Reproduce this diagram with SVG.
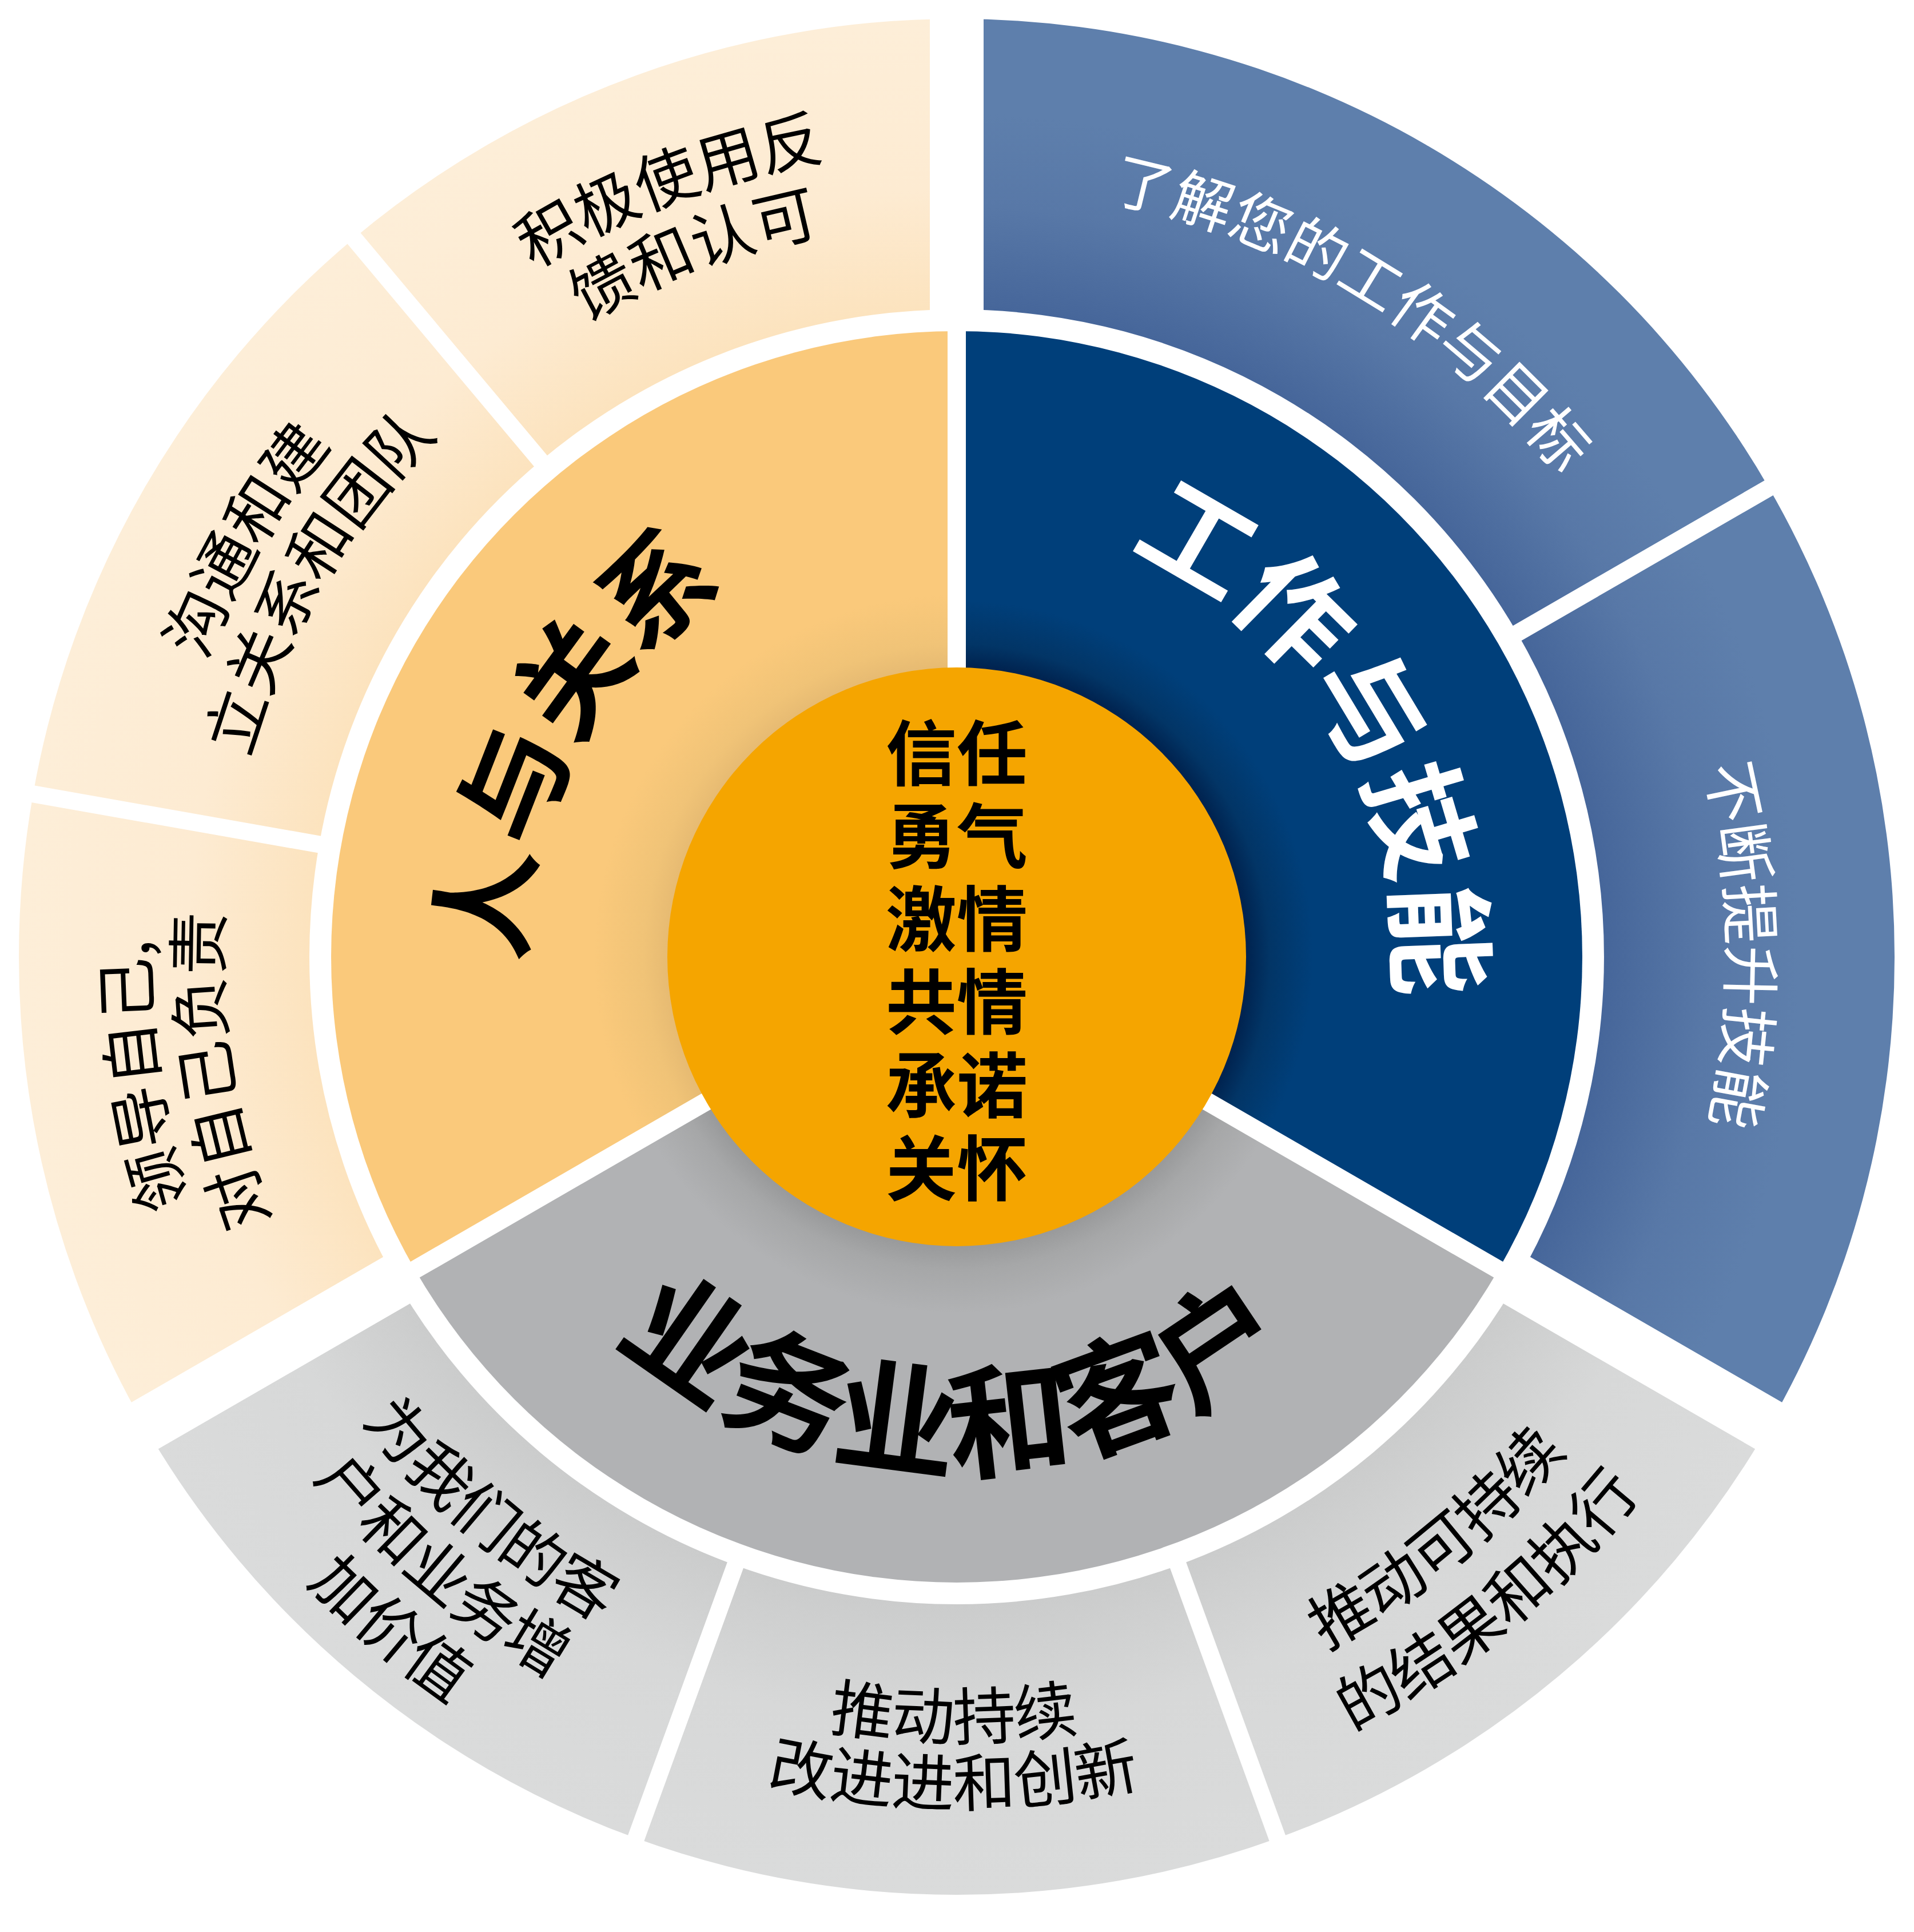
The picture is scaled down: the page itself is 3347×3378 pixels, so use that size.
<svg xmlns="http://www.w3.org/2000/svg" width="3347" height="3378" viewBox="0 0 3347 3378">
<defs>
<style>
.lbl{font-family:"Noto Sans CJK SC","Noto Sans CJK JP",sans-serif;font-size:110px;fill:#000;text-anchor:middle}
.lblw{font-family:"Noto Sans CJK SC","Noto Sans CJK JP",sans-serif;font-size:105px;fill:#fff;text-anchor:middle}
.big{font-family:"Noto Sans CJK SC","Noto Sans CJK JP",sans-serif;font-weight:700;text-anchor:middle}
.core{font-family:"Noto Sans CJK SC","Noto Sans CJK JP",sans-serif;font-weight:700;font-size:124px;fill:#000;text-anchor:middle}
.sep{stroke:#fff;fill:none}
</style>
<radialGradient id="gBlueOut" gradientUnits="userSpaceOnUse" cx="1673" cy="1673" r="1640">
<stop offset="0.69" stop-color="#46669A"/><stop offset="0.8" stop-color="#5878A7"/><stop offset="0.9" stop-color="#5E7FAC"/></radialGradient>
<radialGradient id="gOrOut" gradientUnits="userSpaceOnUse" cx="1673" cy="1673" r="1640">
<stop offset="0.69" stop-color="#FCE3BE"/><stop offset="0.82" stop-color="#FDEBD2"/><stop offset="1" stop-color="#FDEED8"/></radialGradient>
<radialGradient id="gGrOut" gradientUnits="userSpaceOnUse" cx="1673" cy="1673" r="1640">
<stop offset="0.69" stop-color="#CBCCCC"/><stop offset="0.82" stop-color="#D7D8D8"/><stop offset="1" stop-color="#DADBDB"/></radialGradient>
<radialGradient id="gOrIn" gradientUnits="userSpaceOnUse" cx="1673" cy="1673" r="1094">
<stop offset="0.46" stop-color="#E6BA72"/><stop offset="0.5" stop-color="#F0C377"/><stop offset="0.58" stop-color="#FAC97B"/></radialGradient>
<radialGradient id="gBlIn" gradientUnits="userSpaceOnUse" cx="1673" cy="1673" r="1094">
<stop offset="0.46" stop-color="#00214D"/><stop offset="0.5" stop-color="#023566"/><stop offset="0.57" stop-color="#003F7A"/></radialGradient>
<radialGradient id="gGyIn" gradientUnits="userSpaceOnUse" cx="1673" cy="1673" r="1094">
<stop offset="0.46" stop-color="#98999A"/><stop offset="0.5" stop-color="#A6A7A8"/><stop offset="0.57" stop-color="#B1B2B4"/></radialGradient>
<path id="cw772" d="M1673,901 A772,772 0 1 1 1673,2445 A772,772 0 1 1 1673,901"/>
<path id="cw758" d="M1673,915 A758,758 0 1 1 1673,2431 A758,758 0 1 1 1673,915"/>
<path id="ccw895" d="M1673,778 A895,895 0 1 0 1673,2568 A895,895 0 1 0 1673,778"/>
<path id="cw1412" d="M1673,261 A1412,1412 0 1 1 1673,3085 A1412,1412 0 1 1 1673,261"/>
<path id="cw1285" d="M1673,388 A1285,1285 0 1 1 1673,2958 A1285,1285 0 1 1 1673,388"/>
<path id="cw1350" d="M1673,323 A1350,1350 0 1 1 1673,3023 A1350,1350 0 1 1 1673,323"/>
<path id="ccw1319" d="M1673,354 A1319,1319 0 1 0 1673,2992 A1319,1319 0 1 0 1673,354"/>
<path id="ccw1447" d="M1673,226 A1447,1447 0 1 0 1673,3120 A1447,1447 0 1 0 1673,226"/>
<path id="ccw1578" d="M1673,95 A1578,1578 0 1 0 1673,3251 A1578,1578 0 1 0 1673,95"/>
<path id="ccw1369" d="M1673,304 A1369,1369 0 1 0 1673,3042 A1369,1369 0 1 0 1673,304"/>
<path id="ccw1485" d="M1673,188 A1485,1485 0 1 0 1673,3158 A1485,1485 0 1 0 1673,188"/>
<path id="ccw1373" d="M1673,300 A1373,1373 0 1 0 1673,3046 A1373,1373 0 1 0 1673,300"/>
<path id="ccw1520" d="M1673,153 A1520,1520 0 1 0 1673,3193 A1520,1520 0 1 0 1673,153"/>
</defs>
<rect width="3347" height="3378" fill="#fff"/>

<!-- outer ring segments -->
<g id="seg-understand-work">
<path fill="url(#gBlueOut)" d="M1673,33 A1640,1640 0 0 1 3093.3,853 L2653.3,1107 A1132,1132 0 0 0 1673,541 Z"/>
<text class="lblw"><textPath href="#cw1350" startOffset="8.74%">了解您的工作与目标</textPath></text>
</g>
<g id="seg-improve-skills">
<path fill="url(#gBlueOut)" d="M3093.3,853 A1640,1640 0 0 1 3093.3,2493 L2653.3,2239 A1132,1132 0 0 0 2653.3,1107 Z"/>
<text class="lblw"><textPath href="#cw1350" startOffset="24.76%">不断提升技能</textPath></text>
</g>
<g id="seg-sustainable-results">
<path fill="url(#gGrOut)" d="M3093.3,2493 A1640,1640 0 0 1 2233.9,3214.1 L2060.2,2736.7 A1132,1132 0 0 0 2653.3,2239 Z"/>
<text class="lbl"><textPath href="#ccw1373" startOffset="60.97%">推动可持续</textPath></text>
<text class="lbl"><textPath href="#ccw1520" startOffset="60.97%">的结果和执行</textPath></text>
</g>
<g id="seg-innovation">
<path fill="url(#gGrOut)" d="M2233.9,3214.1 A1640,1640 0 0 1 1112.1,3214.1 L1285.8,2736.7 A1132,1132 0 0 0 2060.2,2736.7 Z"/>
<text class="lbl"><textPath href="#ccw1369" startOffset="49.94%">推动持续</textPath></text>
<text class="lbl"><textPath href="#ccw1485" startOffset="49.94%">改进进和创新</textPath></text>
</g>
<g id="seg-add-value">
<path fill="url(#gGrOut)" d="M1112.1,3214.1 A1640,1640 0 0 1 252.7,2493 L692.7,2239 A1132,1132 0 0 0 1285.8,2736.7 Z"/>
<text class="lbl"><textPath href="#ccw1319" startOffset="38.86%">为我们的客</textPath></text>
<text class="lbl"><textPath href="#ccw1447" startOffset="38.86%">户和业务增</textPath></text>
<text class="lbl"><textPath href="#ccw1578" startOffset="38.86%">加价值</textPath></text>
</g>
<g id="seg-lead-yourself">
<path fill="url(#gOrOut)" d="M252.7,2493 A1640,1640 0 0 1 57.9,1388.2 L558.2,1476.4 A1132,1132 0 0 0 692.7,2239 Z"/>
<text class="lbl"><textPath href="#cw1412" startOffset="72.69%">领导自己,</textPath></text>
<text class="lbl"><textPath href="#cw1285" startOffset="72.56%">对自己负责</textPath></text>
</g>
<g id="seg-communicate">
<path fill="url(#gOrOut)" d="M57.9,1388.2 A1640,1640 0 0 1 618.8,416.7 L945.4,805.8 A1132,1132 0 0 0 558.2,1476.4 Z"/>
<text class="lbl"><textPath href="#cw1412" startOffset="83.44%">沟通和建</textPath></text>
<text class="lbl"><textPath href="#cw1285" startOffset="83.44%">立关系和团队</textPath></text>
</g>
<g id="seg-feedback">
<path fill="url(#gOrOut)" d="M618.8,416.7 A1640,1640 0 0 1 1673,33 L1673,541 A1132,1132 0 0 0 945.4,805.8 Z"/>
<text class="lbl"><textPath href="#cw1412" startOffset="94.31%">积极使用反</textPath></text>
<text class="lbl"><textPath href="#cw1285" startOffset="94.31%">馈和认可</textPath></text>
</g>

<!-- inner ring sectors -->
<g id="sector-work-skills">
<path fill="url(#gBlIn)" d="M1673,1673 L1673,579 A1094,1094 0 0 1 2620.4,2220 Z"/>
</g>
<g id="sector-business-customers">
<path fill="url(#gGyIn)" d="M1673,1673 L2620.4,2220 A1094,1094 0 0 1 725.6,2220 Z"/>
</g>
<g id="sector-people-relations">
<path fill="url(#gOrIn)" d="M1673,1673 L725.6,2220 A1094,1094 0 0 1 1673,579 Z"/>
</g>

<!-- separators -->
<g id="connectors">
<path class="sep" stroke-width="94" d="M1673,573 L1673,-27 M2625.6,2223 L3145.2,2523 M720.4,2223 L200.8,2523"/>
<path class="sep" stroke-width="30" d="M2625.6,1123 L3145.2,823 M2049.2,2706.7 L2254.4,3270.5 M1296.8,2706.7 L1091.6,3270.5 M589.7,1482 L-1.2,1377.8 M965.9,830.4 L580.3,370.7"/>
<path class="sep" stroke-width="32" d="M1673,1673 L1673,560 M1673,1673 L2637,2229.5 M1673,1673 L709,2229.5"/>
</g>

<!-- sector titles -->
<g id="title-work-skills">
<text class="big" font-size="195" fill="#fff"><textPath href="#cw772" startOffset="16.39%">工作与技能</textPath></text>
</g>
<g id="title-people-relations">
<text class="big" font-size="195" fill="#000"><textPath href="#cw758" startOffset="82.97%">人与关系</textPath></text>
</g>
<g id="title-business-customers">
<text class="big" font-size="215" fill="#000"><textPath href="#ccw895" startOffset="49.86%">业务业和客户</textPath></text>
</g>

<!-- core -->
<g id="core-values">
<circle cx="1673" cy="1673" r="506" fill="#F5A500"/>
<text class="core" x="1673" y="1363">信任</text>
<text class="core" x="1673" y="1508">勇气</text>
<text class="core" x="1673" y="1653">激情</text>
<text class="core" x="1673" y="1798">共情</text>
<text class="core" x="1673" y="1944">承诺</text>
<text class="core" x="1673" y="2089">关怀</text>
</g>
</svg>
